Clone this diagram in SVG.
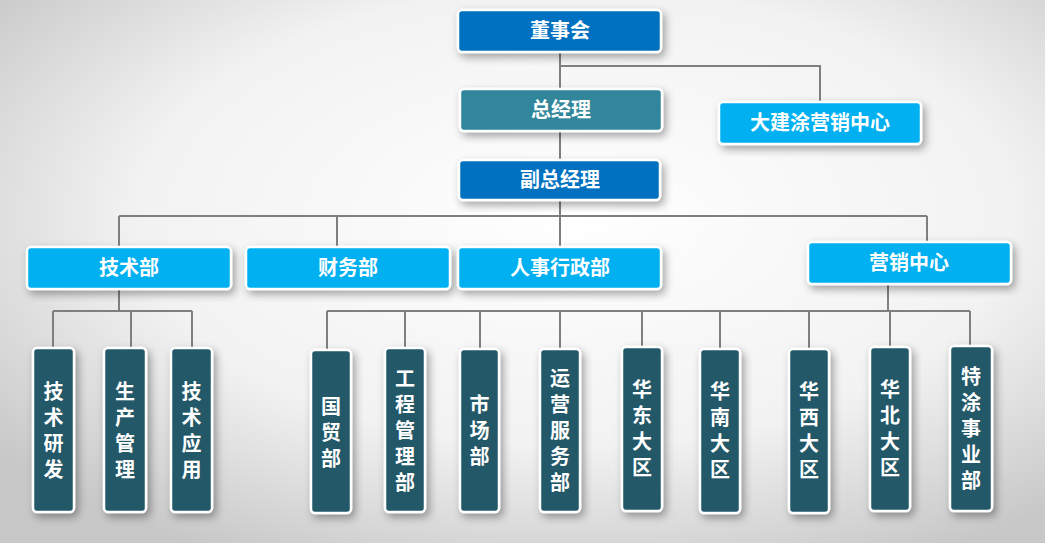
<svg xmlns="http://www.w3.org/2000/svg" width="1045" height="543" viewBox="0 0 1045 543">
<defs>
<radialGradient id="bg" cx="0.55" cy="0.4" r="0.7"><stop offset="0" stop-color="#ffffff"/><stop offset="0.6" stop-color="#f2f2f2"/><stop offset="1" stop-color="#c8c8c8"/></radialGradient>
<filter id="sh" x="-20%" y="-20%" width="150%" height="150%"><feDropShadow dx="3" dy="4" stdDeviation="4" flood-color="#000" flood-opacity="0.35"/></filter>
<style>
.n{stroke:#fff;stroke-width:2.5;filter:url(#sh)}
.blue{fill:#0070c0}.teal{fill:#31869b}.lb{fill:#00b0f0}.dk{fill:#215968}
.t{font-family:"Noto Sans CJK SC","Noto Sans",sans-serif;font-weight:bold;font-size:20px;fill:#fff;text-anchor:middle}
.v{writing-mode:vertical-rl;letter-spacing:6px}
.c{stroke:#7f7f7f;stroke-width:2;fill:none}
</style>
</defs>
<rect width="1045" height="543" fill="url(#bg)"/>
<g id="connectors" class="c">
<path d="M560 52V89M560 66H820V102M560 131V160M560 200V216M119 216H927M119 216V247M337 216V247M560 216V247M927 216V242"/>
<path d="M119 289V311M53 311H192M53 311V348M131 311V348M192 311V348"/>
<path d="M888 284V311M327 311H970M327 311V350M405 311V348M480 311V349M560 311V349M642 311V347M720 311V349M809 311V349M890 311V347M970 311V346"/>
</g>
<g id="n1"><rect class="n blue" x="458" y="10" width="203" height="42" rx="4"/><text class="t" x="560" y="38">董事会</text></g>
<g id="n2"><rect class="n teal" x="460" y="89" width="202" height="42" rx="4"/><text class="t" x="561" y="117">总经理</text></g>
<g id="n3"><rect class="n lb" x="719" y="102" width="202" height="42" rx="4"/><text class="t" x="820" y="130">大建涂营销中心</text></g>
<g id="n4"><rect class="n blue" x="459" y="160" width="201" height="40" rx="4"/><text class="t" x="560" y="187">副总经理</text></g>
<g id="n5"><rect class="n lb" x="27" y="247" width="204" height="42" rx="4"/><text class="t" x="129" y="275">技术部</text></g>
<g id="n6"><rect class="n lb" x="246" y="247" width="204" height="42" rx="4"/><text class="t" x="348" y="275">财务部</text></g>
<g id="n7"><rect class="n lb" x="458" y="247" width="203" height="42" rx="4"/><text class="t" x="560" y="275">人事行政部</text></g>
<g id="n8"><rect class="n lb" x="808" y="242" width="203" height="42" rx="4"/><text class="t" x="909" y="270">营销中心</text></g>
<g id="v1"><rect class="n dk" x="33" y="348" width="41" height="164" rx="4"/><text class="t v" x="53.5" y="433">技术研发</text></g>
<g id="v2"><rect class="n dk" x="104" y="348" width="42" height="164" rx="4"/><text class="t v" x="125" y="433">生产管理</text></g>
<g id="v3"><rect class="n dk" x="171" y="348" width="41" height="164" rx="4"/><text class="t v" x="191.5" y="433">技术应用</text></g>
<g id="v4"><rect class="n dk" x="311" y="350" width="40" height="163" rx="4"/><text class="t v" x="331" y="435">国贸部</text></g>
<g id="v5"><rect class="n dk" x="385" y="348" width="40" height="164" rx="4"/><text class="t v" x="405" y="433">工程管理部</text></g>
<g id="v6"><rect class="n dk" x="460" y="349" width="39" height="163" rx="4"/><text class="t v" x="479.5" y="433">市场部</text></g>
<g id="v7"><rect class="n dk" x="540" y="349" width="40" height="163" rx="4"/><text class="t v" x="560" y="433">运营服务部</text></g>
<g id="v8"><rect class="n dk" x="622" y="347" width="40" height="164" rx="4"/><text class="t v" x="642" y="431">华东大区</text></g>
<g id="v9"><rect class="n dk" x="700" y="349" width="40" height="164" rx="4"/><text class="t v" x="720" y="433">华南大区</text></g>
<g id="v10"><rect class="n dk" x="789" y="349" width="40" height="164" rx="4"/><text class="t v" x="809" y="433">华西大区</text></g>
<g id="v11"><rect class="n dk" x="870" y="347" width="40" height="164" rx="4"/><text class="t v" x="890" y="431">华北大区</text></g>
<g id="v12"><rect class="n dk" x="950" y="346" width="42" height="165" rx="4"/><text class="t v" x="971" y="431">特涂事业部</text></g>
</svg>
